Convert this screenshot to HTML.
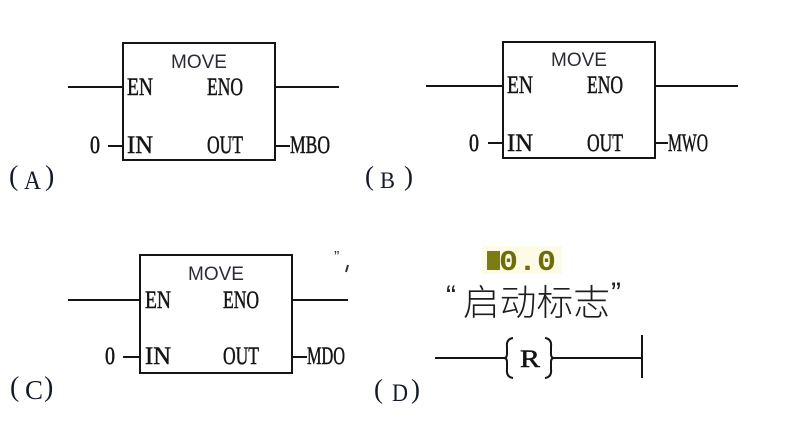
<!DOCTYPE html>
<html>
<head>
<meta charset="utf-8">
<style>
  html,body{margin:0;padding:0;background:#fff;}
  svg{display:block;}
  .pin{font-family:"Liberation Serif",serif;font-size:25px;fill:#141414;stroke:#141414;stroke-width:0.5px;}
  .mv{font-family:"Liberation Sans",sans-serif;font-size:19px;fill:#2e2a36;}
  .lbl{font-family:"Liberation Serif","Noto Serif CJK SC",serif;fill:#151a2a;}
</style>
</head>
<body>
<svg width="794" height="433" viewBox="0 0 794 433" xmlns="http://www.w3.org/2000/svg">
  <rect width="794" height="433" fill="#fff"/>
  <g stroke="#151515" stroke-width="2" fill="none">
    <!-- A -->
    <rect x="123" y="43" width="152" height="117"/>
    <line x1="68" y1="87" x2="123" y2="87"/>
    <line x1="275" y1="87" x2="339" y2="87"/>
    <line x1="108" y1="146" x2="123" y2="146"/>
    <line x1="275" y1="146" x2="290" y2="146"/>
    <!-- B -->
    <rect x="503" y="42" width="152" height="116"/>
    <line x1="426" y1="86" x2="503" y2="86"/>
    <line x1="655" y1="86" x2="738" y2="86"/>
    <line x1="488" y1="143" x2="503" y2="143"/>
    <line x1="655" y1="143" x2="668" y2="143"/>
    <!-- C -->
    <rect x="140" y="255" width="152" height="118"/>
    <line x1="68" y1="300" x2="140" y2="300"/>
    <line x1="292" y1="300" x2="348" y2="300"/>
    <line x1="123" y1="357" x2="140" y2="357"/>
    <line x1="292" y1="357" x2="307" y2="357"/>
    <!-- D -->
    <line x1="435" y1="358" x2="506" y2="358"/>
    <line x1="553" y1="358" x2="642" y2="358"/>
    <line x1="642" y1="335" x2="642" y2="378"/>
    <path d="M513,338 Q506,339 507,347 L507,354 Q507,358 504,358 Q507,358 507,362 L507,369 Q506,377 513,378"/>
    <path d="M545,338 Q552,339 551,347 L551,354 Q551,358 554,358 Q551,358 551,362 L551,369 Q552,377 545,378"/>
  </g>

  <!-- A texts -->
  <text class="mv" x="199" y="68" text-anchor="middle">MOVE</text>
  <text class="pin" x="127" y="95" textLength="26" lengthAdjust="spacingAndGlyphs">EN</text>
  <text class="pin" x="207" y="95" textLength="36" lengthAdjust="spacingAndGlyphs">ENO</text>
  <text class="pin" x="127" y="153" textLength="26" lengthAdjust="spacingAndGlyphs">IN</text>
  <text class="pin" x="207" y="153" textLength="36" lengthAdjust="spacingAndGlyphs">OUT</text>
  <text class="pin" x="90" y="153" textLength="10" lengthAdjust="spacingAndGlyphs">0</text>
  <text class="pin" x="290" y="153" textLength="40" lengthAdjust="spacingAndGlyphs">MBO</text>

  <!-- B texts -->
  <text class="mv" x="579" y="66" text-anchor="middle">MOVE</text>
  <text class="pin" x="507" y="93" textLength="26" lengthAdjust="spacingAndGlyphs">EN</text>
  <text class="pin" x="587" y="93" textLength="36" lengthAdjust="spacingAndGlyphs">ENO</text>
  <text class="pin" x="507" y="151" textLength="26" lengthAdjust="spacingAndGlyphs">IN</text>
  <text class="pin" x="587" y="151" textLength="36" lengthAdjust="spacingAndGlyphs">OUT</text>
  <text class="pin" x="469" y="151" textLength="10" lengthAdjust="spacingAndGlyphs">0</text>
  <text class="pin" x="668" y="151" textLength="40" lengthAdjust="spacingAndGlyphs">MWO</text>

  <!-- C texts -->
  <text class="mv" x="216" y="280" text-anchor="middle">MOVE</text>
  <text class="pin" x="145" y="308" textLength="26" lengthAdjust="spacingAndGlyphs">EN</text>
  <text class="pin" x="223" y="308" textLength="36" lengthAdjust="spacingAndGlyphs">ENO</text>
  <text class="pin" x="145" y="364" textLength="26" lengthAdjust="spacingAndGlyphs">IN</text>
  <text class="pin" x="223" y="364" textLength="36" lengthAdjust="spacingAndGlyphs">OUT</text>
  <text class="pin" x="105" y="364" textLength="10" lengthAdjust="spacingAndGlyphs">0</text>
  <text class="pin" x="307" y="364" textLength="38" lengthAdjust="spacingAndGlyphs">MDO</text>
  <!-- stray marks in C -->
  <text x="334" y="262" font-family="Liberation Sans, sans-serif" font-size="16" fill="#333">”</text>
  <line x1="348" y1="265" x2="346" y2="272" stroke="#333" stroke-width="2"/>

  <!-- Labels -->
  <text class="lbl" x="9" y="185" font-size="28">(</text>
  <text class="lbl" x="24" y="189" font-size="26" textLength="17" lengthAdjust="spacingAndGlyphs">A</text>
  <text class="lbl" x="45" y="185" font-size="28">)</text>

  <text class="lbl" x="365" y="185" font-size="27">(</text>
  <text class="lbl" x="380" y="188" font-size="23" textLength="15" lengthAdjust="spacingAndGlyphs">B</text>
  <text class="lbl" x="404" y="185" font-size="27">)</text>

  <text class="lbl" x="10" y="396" font-size="28">(</text>
  <text class="lbl" x="25" y="399" font-size="27" textLength="18" lengthAdjust="spacingAndGlyphs">C</text>
  <text class="lbl" x="44" y="396" font-size="28">)</text>

  <text class="lbl" x="374" y="398" font-size="27">(</text>
  <text class="lbl" x="392" y="401" font-size="25" textLength="16" lengthAdjust="spacingAndGlyphs">D</text>
  <text class="lbl" x="411" y="398" font-size="27">)</text>

  <!-- D: M0.0 -->
  <rect x="482" y="246" width="80" height="28" fill="#fdfbe6"/>
  <rect x="487" y="251" width="13" height="19" fill="#7c7c14"/>
  <text x="499" y="270" font-family="Liberation Mono, monospace" font-weight="bold" font-size="29" fill="#6d6d0a" textLength="57" lengthAdjust="spacingAndGlyphs">0.0</text>

  <!-- quoted CJK -->
  <text x="446" y="306" font-family="Liberation Sans, sans-serif" font-size="30" fill="#222">“</text>
  <text x="463" y="315" font-family="Liberation Sans, 'Noto Sans CJK SC', sans-serif" font-size="36" font-weight="300" fill="#1e1e1e" textLength="147" lengthAdjust="spacingAndGlyphs">启动标志</text>
  <text x="611" y="303" font-family="Liberation Sans, sans-serif" font-size="30" fill="#222">”</text>

  <!-- R coil letter -->
  <text class="pin" x="520" y="367" font-size="26" textLength="20" lengthAdjust="spacingAndGlyphs">R</text>
</svg>
</body>
</html>
